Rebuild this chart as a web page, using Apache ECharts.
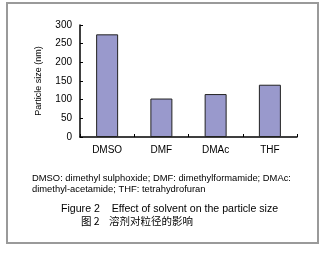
<!DOCTYPE html>
<html>
<head>
<meta charset="utf-8">
<script src="https://cdn.jsdelivr.net/npm/echarts@6/dist/echarts.min.js"></script>
<style>
  html, body { margin: 0; padding: 0; background: #fff; }
  #chart { width: 325px; height: 253px; }
</style>
</head>
<body>
<div id="chart"></div>
<script>
const solvents = ['DMSO', 'DMF', 'DMAc', 'THF']
const particleSize = [275, 103, 115, 140]
const yTicks = [0, 50, 100, 150, 200, 250, 300]

const noteLines = [
  'DMSO: dimethyl sulphoxide; DMF: dimethylformamide; DMAc:',
  'dimethyl-acetamide; THF: tetrahydrofuran'
]
const captionEn = 'Figure 2    Effect of solvent on the particle size'
const captionZh = '图 2    溶剂对粒径的影响'

const font = 'Arial, "Liberation Sans", sans-serif'
const chart = echarts.init(document.getElementById('chart'), null, { renderer: 'canvas' })

chart.setOption({
  animation: false,
  grid: { left: 80, right: 28, top: 25, bottom: 116 },
  xAxis: {
    type: 'category',
    data: solvents,
    axisLine: { lineStyle: { color: '#000', width: 1.5 } },
    axisTick: { show: true, inside: true, length: 3, lineStyle: { color: '#000' } },
    axisLabel: { color: '#000', fontFamily: font, fontSize: 10, margin: 8 }
  },
  yAxis: {
    type: 'value',
    min: yTicks[0],
    max: yTicks[yTicks.length - 1],
    interval: 50,
    name: 'Particle size (nm)',
    nameLocation: 'middle',
    nameRotate: 90,
    nameGap: 37,
    nameTextStyle: { color: '#000', fontFamily: font, fontSize: 9 },
    splitLine: { show: false },
    axisLine: { show: true, lineStyle: { color: '#000', width: 1.5 } },
    axisTick: { show: true, inside: true, length: 3, lineStyle: { color: '#000' } },
    axisLabel: { color: '#000', fontFamily: font, fontSize: 10, margin: 8 }
  },
  series: [{
    type: 'bar',
    data: particleSize,
    barWidth: 22,
    itemStyle: { color: '#9999CC', borderColor: '#222', borderWidth: 1 }
  }],
  graphic: [
    {
      type: 'rect',
      shape: { x: 7, y: 3, width: 311, height: 240 },
      style: { fill: 'none', stroke: '#9a9a9a', lineWidth: 2 },
      silent: true
    },
    {
      type: 'text', left: 32, top: 173,
      style: { text: noteLines.join('\n'), font: '9.4px ' + font, fill: '#000', lineHeight: 11 }
    },
    {
      type: 'text', left: 61, top: 204,
      style: { text: captionEn, font: '10.6px ' + font, fill: '#000' }
    },
    {
      type: 'text', left: 81, top: 216,
      style: { text: captionZh, font: '10.5px "Noto Sans CJK SC", sans-serif', fill: '#000' }
    }
  ]
})
</script>
</body>
</html>
